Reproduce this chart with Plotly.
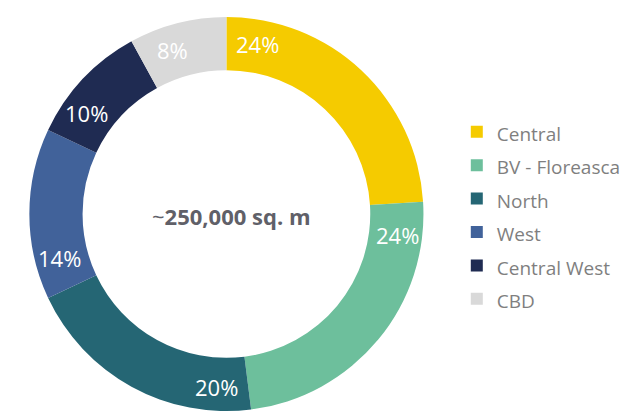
import numpy as np
import plotly.graph_objects as go

categories = ["Central", "BV - Floreasca", "North", "West", "Central West", "CBD"]
shares = [24, 24, 20, 14, 10, 8]
colors = ["#F5CB00", "#6DBF9C", "#256674", "#41629A", "#1F2B52", "#D9D9D9"]
center_label = "~250,000 sq. m"

W, H = 626, 412
mt, mb = 16, 0
plot_h = H - mt - mb
R = plot_h / 2
cx = 227.5
cy = mt + R
hole = 0.73
FONT = "Open Sans"

dom_x = [(cx - R) / W, (cx + R) / W]

legend_labels = [f"<span style='font-size:19px'>{c}</span>" for c in categories]

fig = go.Figure(
    go.Pie(
        labels=legend_labels,
        values=shares,
        sort=False,
        direction="clockwise",
        rotation=0,
        hole=hole,
        marker=dict(colors=colors, line=dict(width=0)),
        textinfo="none",
        domain=dict(x=dom_x, y=[0, 1]),
        hoverinfo="percent",
    )
)

# percentage labels placed near the start of each slice
total = sum(shares)
cum = 0
offset_deg = 10.5
r_lab = 0.875 * R
for v in shares:
    ang = np.deg2rad(360 * cum / total + offset_deg)
    px = cx + r_lab * np.sin(ang)
    py = cy - r_lab * np.cos(ang)
    fig.add_annotation(
        x=px / W, y=(H - mb - py) / plot_h, xref="paper", yref="paper",
        xanchor="center", yanchor="middle",
        text=f"{round(100 * v / total)}%", showarrow=False,
        font=dict(color="white", size=22, family=FONT),
    )
    cum += v

tilde, rest = center_label[0], center_label[1:]
fig.add_annotation(
    x=cx / W, y=(H - mb - cy) / plot_h, xref="paper", yref="paper",
    xanchor="center", yanchor="middle",
    xshift=5, yshift=-2,
    text=f"<span style='font-weight:normal'>{tilde}</span><b>{rest}</b>",
    showarrow=False,
    font=dict(color="#606068", size=22, family=FONT),
)

fig.update_layout(
    width=W, height=H,
    margin=dict(l=0, r=0, t=mt, b=mb),
    paper_bgcolor="white", plot_bgcolor="white",
    showlegend=True,
    legend=dict(
        x=459 / W, xanchor="left",
        y=(H - mb - 215.5) / plot_h, yanchor="middle",
        font=dict(size=23.4, color="#7f7f7f", family=FONT),
        bgcolor="rgba(0,0,0,0)",
    ),
    font=dict(family=FONT),
)

fig.write_html("out.html")
